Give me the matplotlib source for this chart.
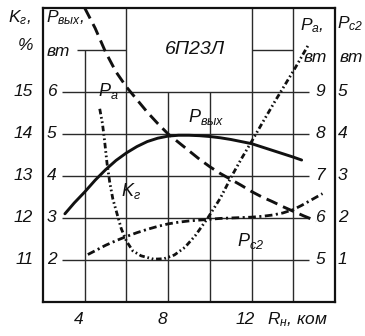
import matplotlib
matplotlib.use("Agg")
import matplotlib.pyplot as plt

plt.rcParams['font.family'] = ['Liberation Sans Narrow', 'Liberation Sans', 'DejaVu Sans']
plt.rcParams['font.style'] = 'italic'
plt.rcParams['mathtext.fontset'] = 'custom'
plt.rcParams['mathtext.it'] = 'Liberation Sans:italic'
plt.rcParams['mathtext.rm'] = 'Liberation Sans:italic'
plt.rcParams['lines.scale_dashes'] = False

# R_н, ком  ->  P_вых, вт (left scale)
r_pout = [3.05, 3.5, 4.0, 4.5, 5.0, 5.5, 6.0, 6.5, 7.0, 7.5, 8.0, 8.5, 9.0,
          9.5, 10.0, 10.5, 11.0, 11.5, 12.0, 12.5, 13.0, 13.5, 14.0, 14.4]
p_out = [3.1, 3.36, 3.62, 3.9, 4.15, 4.37, 4.55, 4.7, 4.82, 4.9, 4.95, 4.97, 4.97,
         4.96, 4.94, 4.91, 4.87, 4.82, 4.77, 4.69, 4.61, 4.53, 4.45, 4.38]

# P_a, вт (right scale, inner)
r_pa = [4.0, 4.5, 5.0, 5.5, 6.0, 6.5, 7.0, 7.5, 8.0, 8.5, 9.0, 9.5, 10.0,
        10.5, 11.0, 11.5, 12.0, 12.5, 13.0, 13.5, 14.0, 14.5, 15.1]
p_a = [11.0, 10.52, 9.95, 9.48, 9.12, 8.82, 8.52, 8.25, 8.0, 7.8, 7.6, 7.4, 7.22,
       7.06, 6.92, 6.78, 6.63, 6.5, 6.39, 6.27, 6.16, 6.05, 5.93]

# K_г, % (left scale, outer)
r_k = [4.72, 4.85, 4.95, 5.07, 5.2, 5.35, 5.55, 5.75, 6.0, 6.3, 6.7, 7.3, 7.8,
       8.3, 8.8, 9.3, 9.9, 10.5, 11.05, 11.5, 12.0, 12.5, 13.1, 13.6, 14.1, 14.7]
k_g = [14.6, 14.25, 13.85, 13.3, 12.85, 12.45, 12.1, 11.75, 11.45, 11.22, 11.1, 11.02, 11.03,
       11.12, 11.3, 11.58, 12.0, 12.47, 13.0, 13.4, 13.82, 14.25, 14.76, 15.17, 15.58, 16.1]

# P_c2, вт (right scale, outer)
r_pc2 = [4.15, 4.5, 5.0, 5.5, 6.0, 6.5, 7.0, 7.5, 8.0, 8.5, 9.0, 9.5, 10.0,
         10.5, 11.0, 11.5, 12.0, 12.5, 13.0, 13.5, 14.0, 14.4, 14.9, 15.4]
p_c2 = [1.13, 1.22, 1.35, 1.46, 1.56, 1.65, 1.73, 1.8, 1.86, 1.9, 1.93, 1.95, 1.97,
        1.99, 2.0, 2.01, 2.02, 2.04, 2.07, 2.12, 2.2, 2.3, 2.44, 2.58]

pout_ticks = [2, 3, 4, 5, 6]
k_ticks = [11, 12, 13, 14, 15]
pa_ticks = [5, 6, 7, 8, 9]
pc2_ticks = [1, 2, 3, 4, 5]
x_ticks = [4, 8, 12]

W, H = 365, 336
fig = plt.figure(figsize=(W / 100, H / 100), dpi=100)
ax = fig.add_axes([43 / W, 1 - 302 / H, 292 / W, 294 / H])
ax.set_xlim(2, 16)
ax.set_ylim(1, 8)
ax_k = ax.twinx()
ax_k.set_ylim(10, 17)
ax_pa = ax.twinx()
ax_pa.set_ylim(4, 11)
ax_pc = ax.twinx()
ax_pc.set_ylim(0, 7)

for a in (ax, ax_k, ax_pa, ax_pc):
    a.set_xticks([])
    a.set_yticks([])
for a in (ax_k, ax_pa, ax_pc):
    for s in a.spines.values():
        s.set_visible(False)
for s in ax.spines.values():
    s.set_linewidth(1.6)
    s.set_color('#111111')

ink = '#111111'
gc = '#2a2a2a'
glw = 1.0
# grid
ax.hlines([2, 3, 4, 5, 6], 2.9, 14.75, color=gc, lw=glw)
ax.hlines(7, 3.65, 6, color=gc, lw=glw)
ax.hlines(7, 12, 14, color=gc, lw=glw)
ax.vlines(4, 1, 7, color=gc, lw=glw)
ax.vlines([6, 12, 14], 1, 8, color=gc, lw=glw)
ax.vlines([8, 10], 1, 6, color=gc, lw=glw)

# curves
ax.plot(r_pout, p_out, color=ink, lw=2.1, solid_capstyle='round')
ax_pa.plot(r_pa, p_a, color=ink, lw=2.1, dashes=(8.5, 4.5))
ax_k.plot(r_k, k_g, color=ink, lw=2.0, dashes=(4, 2, 1.2, 2, 1.2, 2))
ax_pc.plot(r_pc2, p_c2, color=ink, lw=2.0, dashes=(5.5, 2.5, 1.5, 2.5))

fs = 12.5
# tick labels
for v in k_ticks:
    ax_k.text(-0.034, v, str(v), transform=ax_k.get_yaxis_transform(),
              ha='right', va='center', fontsize=fs, color=ink)
for v in pout_ticks:
    ax.text(0.014, v, str(v), transform=ax.get_yaxis_transform(),
            ha='left', va='center', fontsize=fs, color=ink)
for v in pa_ticks:
    ax_pa.text(0.932, v, str(v), transform=ax_pa.get_yaxis_transform(),
               ha='left', va='center', fontsize=fs, color=ink)
for v in pc2_ticks:
    ax_pc.text(1.01, v, str(v), transform=ax_pc.get_yaxis_transform(),
               ha='left', va='center', fontsize=fs, color=ink)
for v in x_ticks:
    ax.text(v - 0.3, -0.06, str(v), transform=ax.get_xaxis_transform(),
            ha='center', va='center', fontsize=fs, color=ink)
ax.text(12.74, -0.06, r'$R_н$, ком', transform=ax.get_xaxis_transform(),
        ha='left', va='center', fontsize=fs, color=ink)

def ftext(px, py, s, **kw):
    fig.text(px / W, 1 - py / H, s, fontsize=kw.pop('fontsize', fs), color=ink, **kw)

# axis captions
ftext(8, 18, r'$K_г$,', ha='left', va='center')
ftext(18, 46, '%', ha='left', va='center')
ftext(46, 18, r'$P_{вых}$,', ha='left', va='center')
ftext(47, 51, 'вт', ha='left', va='center')
ftext(300, 26, r'$P_a$,', ha='left', va='center')
ftext(304, 58, 'вт', ha='left', va='center')
ftext(337, 24, r'$P_{c2}$', ha='left', va='center')
ftext(340, 58, 'вт', ha='left', va='center')
ftext(195, 50, '6П23Л', ha='center', va='center', fontsize=14)

# curve labels
ftext(108, 91, r'$P_a$', ha='center', va='center', fontsize=13)
ftext(206, 117, r'$P_{вых}$', ha='center', va='center', fontsize=13)
ftext(131, 191, r'$K_г$', ha='center', va='center', fontsize=13)
ftext(251, 241, r'$P_{c2}$', ha='center', va='center', fontsize=13)

fig.savefig('out.png', dpi=100, facecolor='white')
